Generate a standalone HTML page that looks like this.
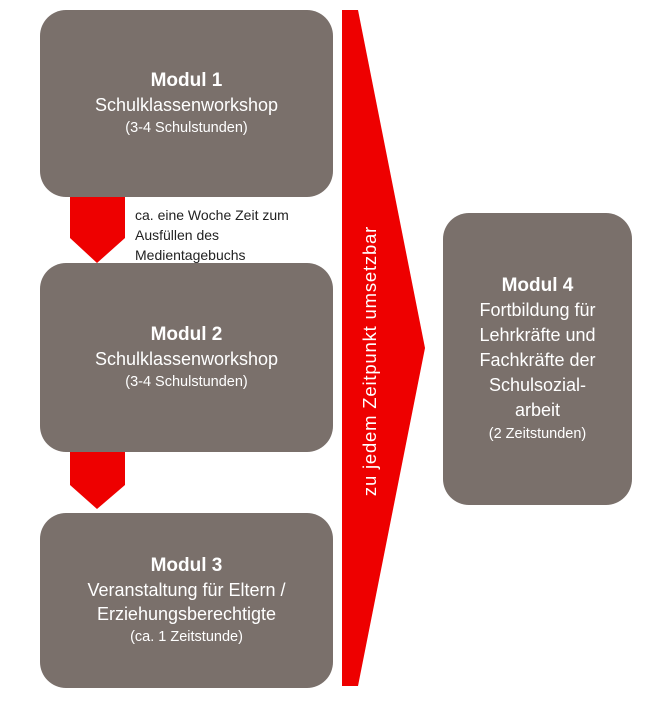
<!DOCTYPE html>
<html><head><meta charset="utf-8"><style>
body{margin:0;width:651px;height:720px;background:#fff;position:relative;overflow:hidden;font-family:"Liberation Sans",sans-serif;}
.box{position:absolute;background:#7a706b;border-radius:26px;color:#fff;text-align:center;display:flex;flex-direction:column;justify-content:center;font-size:18px;line-height:24px;}
.box b{font-size:19px;}
.box small{font-size:14.5px;line-height:22px;}
.note{position:absolute;left:135px;top:205px;font-size:14px;line-height:20px;color:#222;}
.vt{position:absolute;left:370px;top:361px;transform:translate(-50%,-50%) rotate(-90deg);color:#fff;font-size:18.5px;letter-spacing:0.8px;white-space:nowrap;}
</style></head><body>
<svg width="651" height="720" style="position:absolute;left:0;top:0">
<polygon points="342,10 358,10 425,348 358,686 342,686" fill="#ee0000"/>
<polygon points="70,196 125,196 125,238 97,263 70,238" fill="#ee0000"/>
<polygon points="70,450 125,450 125,485 97,509 70,485" fill="#ee0000"/>
</svg>
<div class="box" style="left:40px;top:10px;width:293px;height:187px"><b>Modul 1</b>Schulklassenworkshop<small>(3-4 Schulstunden)</small></div>
<div class="box" style="left:40px;top:263px;width:293px;height:189px"><b>Modul 2</b>Schulklassenworkshop<small>(3-4 Schulstunden)</small></div>
<div class="box" style="left:40px;top:513px;width:293px;height:175px"><b>Modul 3</b>Veranstaltung für Eltern /<br>Erziehungsberechtigte<small>(ca. 1 Zeitstunde)</small></div>
<div class="box" style="left:443px;top:213px;width:189px;height:292px;line-height:25px"><b>Modul 4</b>Fortbildung für<br>Lehrkräfte und<br>Fachkräfte der<br>Schulsozial-<br>arbeit<small>(2 Zeitstunden)</small></div>
<div class="note">ca. eine Woche Zeit zum<br>Ausfüllen des<br>Medientagebuchs</div>
<div class="vt">zu jedem Zeitpunkt umsetzbar</div>
</body></html>
